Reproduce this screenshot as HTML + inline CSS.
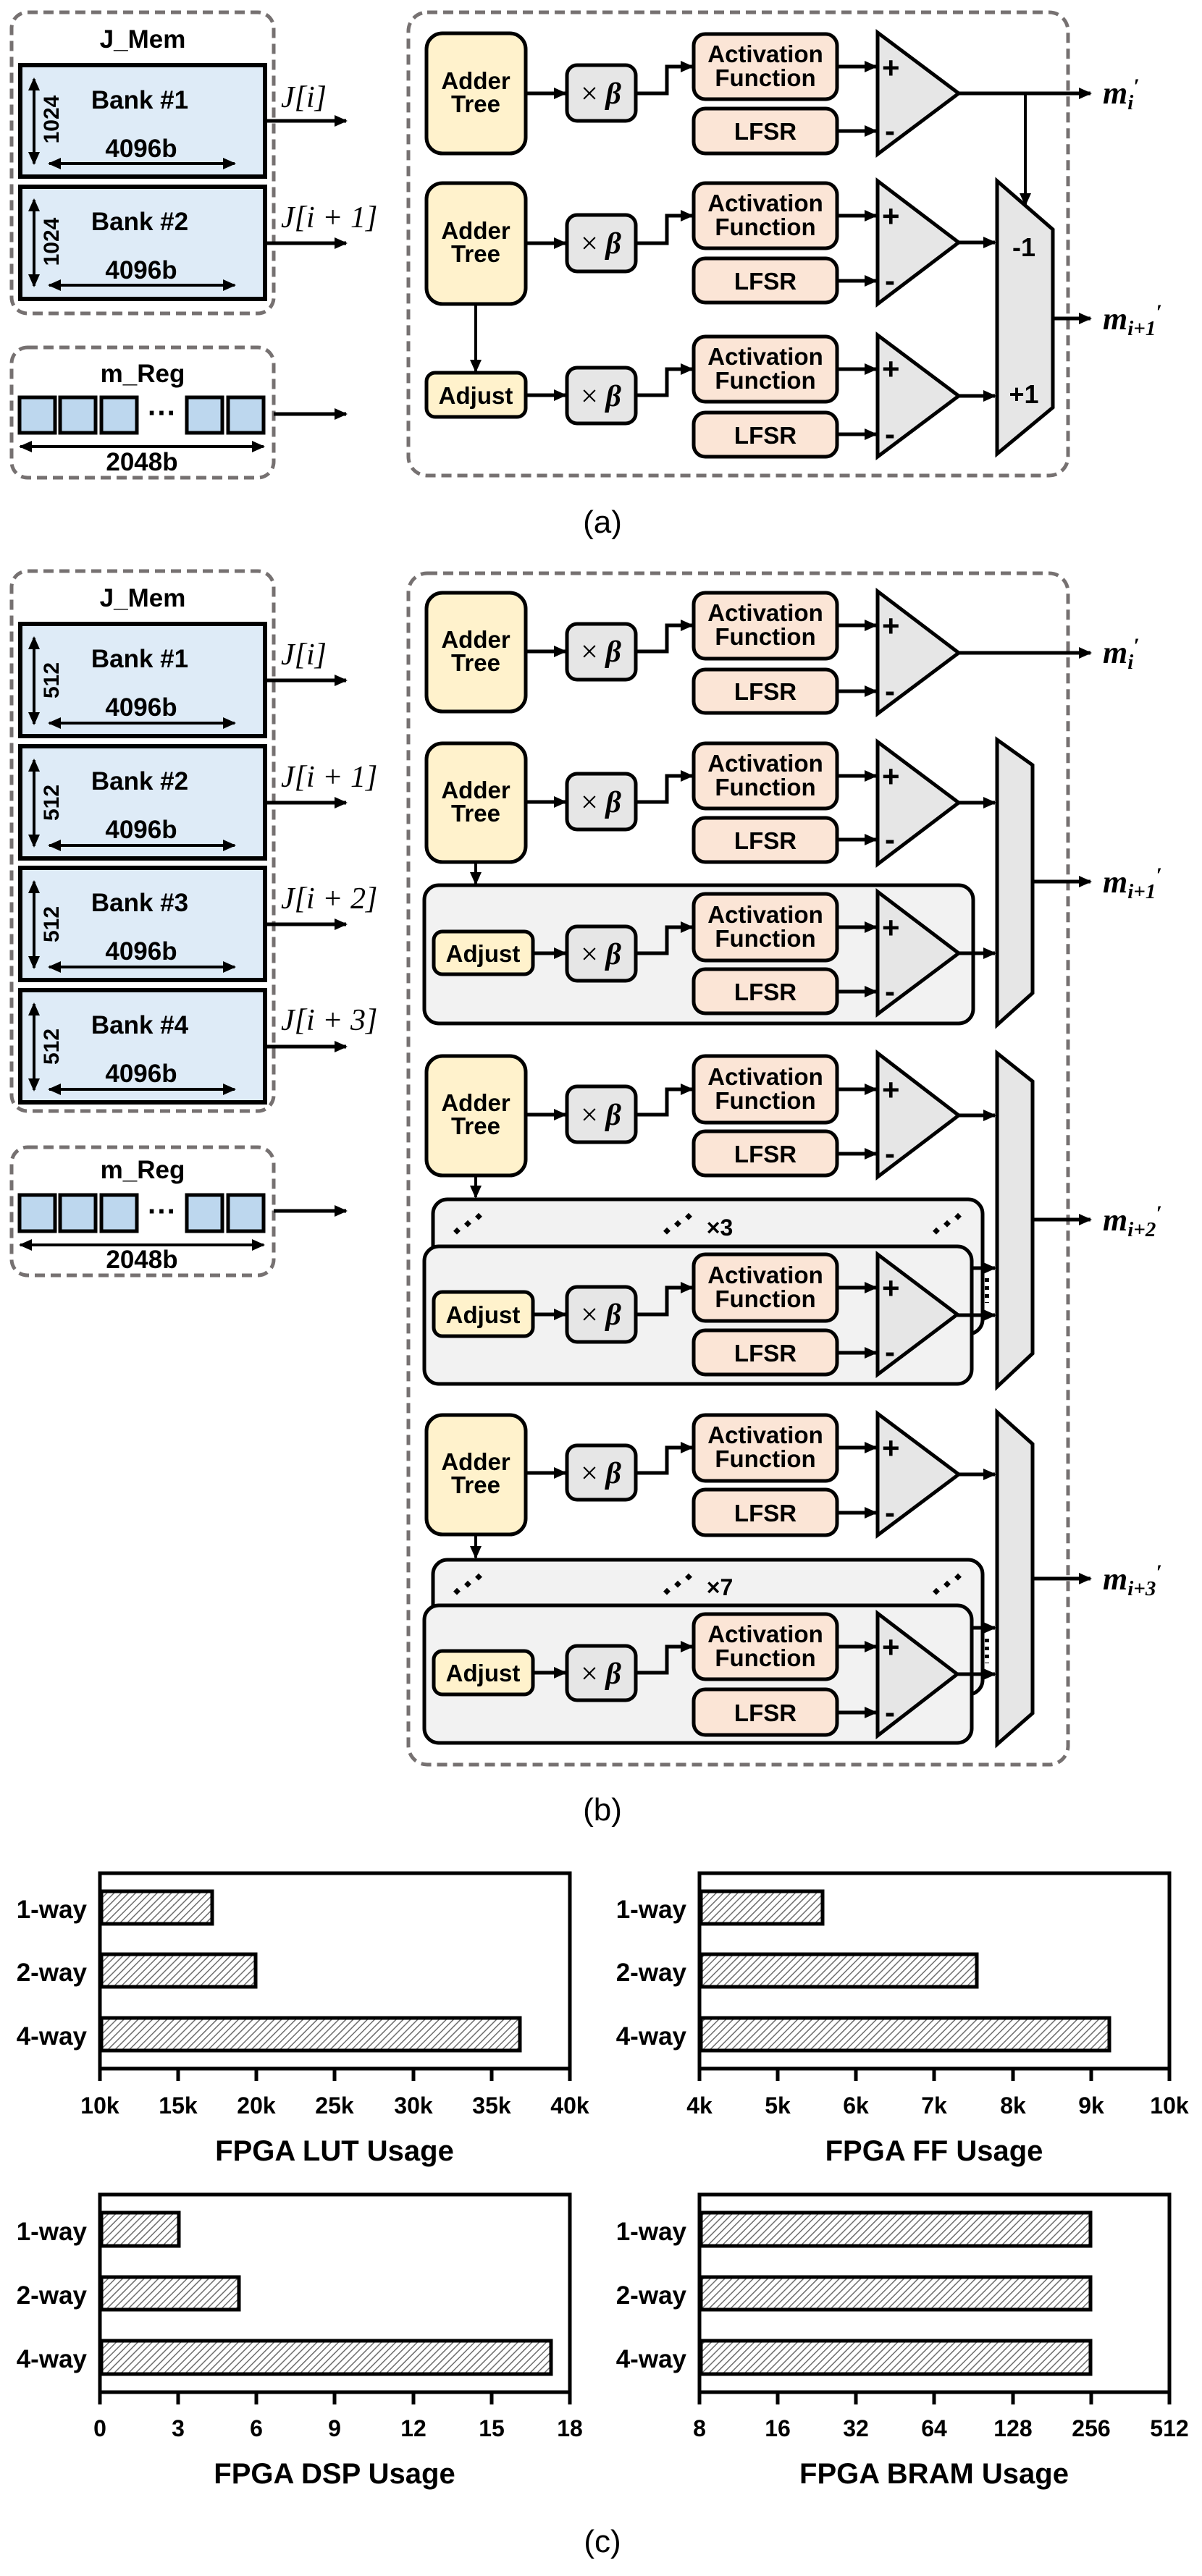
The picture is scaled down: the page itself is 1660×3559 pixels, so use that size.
<!DOCTYPE html>
<html><head><meta charset="utf-8"><style>
html,body{margin:0;padding:0;background:#fff}
svg{display:block}
text{font-family:"Liberation Sans",Arial,sans-serif}
.b{font-weight:bold;font-size:33px;text-anchor:middle}
.bk{font-weight:bold;font-size:35px;text-anchor:middle}
.ser{font-family:"Liberation Serif","DejaVu Serif",serif;font-style:italic}
.ad{fill:#fff2cc;stroke:#000;stroke-width:5}
.ac{fill:#fbe5d6;stroke:#000;stroke-width:5}
.xb{fill:#e6e6e6;stroke:#000;stroke-width:5}
.tri{fill:#e6e6e6;stroke:#000;stroke-width:5;stroke-linejoin:miter}
.ln{fill:none;stroke:#000;stroke-width:5}
.ln4{fill:none;stroke:#000;stroke-width:4}
.dash{fill:none;stroke:#767171;stroke-width:5;stroke-dasharray:14 8}
.gbox{fill:#f2f2f2;stroke:#000;stroke-width:5}
.bank{fill:#deebf7;stroke:#000;stroke-width:6}
.cell{fill:#bdd7ee;stroke:#000;stroke-width:5}
.pm{font-family:"Liberation Sans",sans-serif;font-size:42px;font-weight:bold}
.cat{font-size:35px;font-weight:bold;text-anchor:end}
.tk{font-size:32px;font-weight:bold;text-anchor:middle}
.tt{font-size:40px;font-weight:bold;text-anchor:middle}
.pl{font-size:44px;text-anchor:middle}
.bar{fill:url(#hatch);stroke:#000;stroke-width:5}
.J{font-size:42px}
</style></head><body>
<svg width="1660" height="3559" viewBox="0 0 1660 3559" xmlns="http://www.w3.org/2000/svg">
<defs>
<marker id="ar" markerUnits="userSpaceOnUse" markerWidth="18" markerHeight="16" refX="16" refY="8" orient="auto"><path d="M0,0 L18,8 L0,16 z" fill="#000"/></marker>
<marker id="ar2" markerUnits="userSpaceOnUse" markerWidth="18" markerHeight="16" refX="16" refY="8" orient="auto-start-reverse"><path d="M0,0 L18,8 L0,16 z" fill="#000"/></marker>
<pattern id="hatch" patternUnits="userSpaceOnUse" width="7" height="7" patternTransform="rotate(45)"><rect width="7" height="7" fill="#fff"/><line x1="0" y1="0" x2="0" y2="7" stroke="#6e6e6e" stroke-width="3"/></pattern>
</defs>

<!-- ================= (a) ================= -->
<rect x="16" y="17" width="362" height="416" rx="22" class="dash"/>
<text x="197" y="66" class="bk">J_Mem</text>
<rect x="28" y="90" width="338" height="154" class="bank"/>
<line x1="47" y1="109" x2="47" y2="226" class="ln4" marker-start="url(#ar2)" marker-end="url(#ar2)"/>
<text transform="translate(81,165) rotate(-90)" class="b" style="font-size:30px">1024</text>
<text x="193" y="150" class="bk">Bank #1</text>
<text x="195" y="217" class="bk">4096b</text>
<line x1="68" y1="226" x2="324" y2="226" class="ln4" marker-start="url(#ar2)" marker-end="url(#ar2)"/>
<rect x="28" y="258" width="338" height="155" class="bank"/>
<line x1="47" y1="276" x2="47" y2="395" class="ln4" marker-start="url(#ar2)" marker-end="url(#ar2)"/>
<text transform="translate(81,334) rotate(-90)" class="b" style="font-size:30px">1024</text>
<text x="193" y="318" class="bk">Bank #2</text>
<text x="195" y="385" class="bk">4096b</text>
<line x1="68" y1="394" x2="324" y2="394" class="ln4" marker-start="url(#ar2)" marker-end="url(#ar2)"/>
<line x1="366" y1="167" x2="478" y2="167" class="ln" marker-end="url(#ar)"/>
<line x1="366" y1="336" x2="478" y2="336" class="ln" marker-end="url(#ar)"/>
<text x="388" y="148" class="ser J">J[i]</text>
<text x="388" y="314" class="ser J">J[i + 1]</text>

<rect x="16" y="480" width="362" height="180" rx="22" class="dash"/>
<text x="197" y="528" class="bk">m_Reg</text>
<rect x="27" y="549" width="49" height="49" class="cell"/>
<rect x="83" y="549" width="49" height="49" class="cell"/>
<rect x="140" y="549" width="49" height="49" class="cell"/>
<text x="224" y="584" class="bk" style="font-size:40px">···</text>
<rect x="258" y="549" width="49" height="49" class="cell"/>
<rect x="315" y="549" width="49" height="49" class="cell"/>
<line x1="28" y1="617" x2="364" y2="617" class="ln4" marker-start="url(#ar2)" marker-end="url(#ar2)"/>
<text x="196" y="650" class="bk">2048b</text>
<line x1="378" y1="572" x2="478" y2="572" class="ln" marker-end="url(#ar)"/>

<rect x="564" y="17" width="911" height="640" rx="26" class="dash"/>
<!-- row a1 -->
<rect x="589" y="46" width="137" height="166" rx="22" class="ad"/>
<text x="657" y="123" class="b">Adder</text><text x="657" y="155" class="b">Tree</text>
<rect x="783" y="90" width="95" height="77" rx="14" class="xb"/>
<text x="830" y="143" class="ser" style="font-size:42px;text-anchor:middle;font-style:normal">× <tspan font-style="italic" font-weight="bold">β</tspan></text>
<rect x="958" y="47" width="198" height="90" rx="16" class="ac"/>
<text x="1057" y="86" class="b">Activation</text><text x="1057" y="119" class="b">Function</text>
<rect x="958" y="150" width="198" height="62" rx="16" class="ac"/>
<text x="1057" y="193" class="b">LFSR</text>
<polygon points="1212,45 1324,129 1212,213" class="tri"/>
<text x="1218" y="108" class="pm">+</text><text x="1222" y="195" class="pm">-</text>
<line x1="726" y1="129" x2="781" y2="129" class="ln" marker-end="url(#ar)"/>
<path d="M878,129 H921 V92 H956" class="ln" marker-end="url(#ar)"/>
<line x1="1156" y1="92" x2="1210" y2="92" class="ln" marker-end="url(#ar)"/>
<line x1="1156" y1="181" x2="1210" y2="181" class="ln" marker-end="url(#ar)"/>
<line x1="1324" y1="129" x2="1506" y2="129" class="ln" marker-end="url(#ar)"/>
<line x1="1416" y1="129" x2="1416" y2="283" class="ln4" marker-end="url(#ar)"/>
<text x="1523" y="143" class="ser" style="font-size:44px;font-weight:bold">m<tspan font-size="29" dy="8">i</tspan><tspan font-size="30" dy="-22">′</tspan></text>
<!-- row a2 -->
<rect x="589" y="253" width="137" height="167" rx="22" class="ad"/>
<text x="657" y="330" class="b">Adder</text><text x="657" y="362" class="b">Tree</text>
<rect x="783" y="297" width="95" height="78" rx="14" class="xb"/>
<text x="830" y="350" class="ser" style="font-size:42px;text-anchor:middle;font-style:normal">× <tspan font-style="italic" font-weight="bold">β</tspan></text>
<rect x="958" y="253" width="198" height="90" rx="16" class="ac"/>
<text x="1057" y="292" class="b">Activation</text><text x="1057" y="325" class="b">Function</text>
<rect x="958" y="357" width="198" height="61" rx="16" class="ac"/>
<text x="1057" y="400" class="b">LFSR</text>
<polygon points="1212,250 1324,335 1212,420" class="tri"/>
<text x="1218" y="313" class="pm">+</text><text x="1222" y="402" class="pm">-</text>
<line x1="726" y1="336" x2="781" y2="336" class="ln" marker-end="url(#ar)"/>
<path d="M878,336 H921 V298 H956" class="ln" marker-end="url(#ar)"/>
<line x1="1156" y1="298" x2="1210" y2="298" class="ln" marker-end="url(#ar)"/>
<line x1="1156" y1="388" x2="1210" y2="388" class="ln" marker-end="url(#ar)"/>
<line x1="1324" y1="335" x2="1374" y2="335" class="ln" marker-end="url(#ar)"/>
<line x1="657" y1="420" x2="657" y2="513" class="ln4" marker-end="url(#ar)"/>
<!-- row a3 -->
<rect x="589" y="515" width="137" height="61" rx="12" class="ad"/>
<text x="657" y="558" class="b">Adjust</text>
<rect x="783" y="508" width="95" height="77" rx="14" class="xb"/>
<text x="830" y="561" class="ser" style="font-size:42px;text-anchor:middle;font-style:normal">× <tspan font-style="italic" font-weight="bold">β</tspan></text>
<rect x="958" y="465" width="198" height="90" rx="16" class="ac"/>
<text x="1057" y="504" class="b">Activation</text><text x="1057" y="537" class="b">Function</text>
<rect x="958" y="570" width="198" height="61" rx="16" class="ac"/>
<text x="1057" y="613" class="b">LFSR</text>
<polygon points="1212,463 1324,547 1212,631" class="tri"/>
<text x="1218" y="524" class="pm">+</text><text x="1222" y="614" class="pm">-</text>
<line x1="726" y1="546" x2="781" y2="546" class="ln" marker-end="url(#ar)"/>
<path d="M878,546 H921 V510 H956" class="ln" marker-end="url(#ar)"/>
<line x1="1156" y1="510" x2="1210" y2="510" class="ln" marker-end="url(#ar)"/>
<line x1="1156" y1="600" x2="1210" y2="600" class="ln" marker-end="url(#ar)"/>
<line x1="1324" y1="547" x2="1374" y2="547" class="ln" marker-end="url(#ar)"/>
<polygon points="1377,250 1454,317 1454,563 1377,627" class="tri"/>
<text x="1414" y="354" class="b" style="font-size:36px">-1</text>
<text x="1414" y="557" class="b" style="font-size:36px">+1</text>
<line x1="1454" y1="440" x2="1506" y2="440" class="ln" marker-end="url(#ar)"/>
<text x="1523" y="455" class="ser" style="font-size:44px;font-weight:bold">m<tspan font-size="29" dy="8">i+1</tspan><tspan font-size="30" dy="-22">′</tspan></text>
<text x="832" y="736" class="pl">(a)</text>

<!-- ================= (b) ================= -->
<rect x="16" y="789" width="362" height="746" rx="22" class="dash"/>
<text x="197" y="838" class="bk">J_Mem</text>
<g>
<rect x="28" y="862" width="338" height="155" class="bank"/>
<line x1="47" y1="881" x2="47" y2="1000" class="ln4" marker-start="url(#ar2)" marker-end="url(#ar2)"/>
<text transform="translate(81,940) rotate(-90)" class="b" style="font-size:30px">512</text>
<text x="193" y="922" class="bk">Bank #1</text>
<text x="195" y="989" class="bk">4096b</text>
<line x1="68" y1="999" x2="324" y2="999" class="ln4" marker-start="url(#ar2)" marker-end="url(#ar2)"/>
<line x1="366" y1="940" x2="478" y2="940" class="ln" marker-end="url(#ar)"/>
<text x="388" y="918" class="ser J">J[i]</text>
</g>
<g>
<rect x="28" y="1031" width="338" height="155" class="bank"/>
<line x1="47" y1="1050" x2="47" y2="1169" class="ln4" marker-start="url(#ar2)" marker-end="url(#ar2)"/>
<text transform="translate(81,1109) rotate(-90)" class="b" style="font-size:30px">512</text>
<text x="193" y="1091" class="bk">Bank #2</text>
<text x="195" y="1158" class="bk">4096b</text>
<line x1="68" y1="1168" x2="324" y2="1168" class="ln4" marker-start="url(#ar2)" marker-end="url(#ar2)"/>
<line x1="366" y1="1109" x2="478" y2="1109" class="ln" marker-end="url(#ar)"/>
<text x="388" y="1087" class="ser J">J[i + 1]</text>
</g>
<g>
<rect x="28" y="1199" width="338" height="155" class="bank"/>
<line x1="47" y1="1218" x2="47" y2="1337" class="ln4" marker-start="url(#ar2)" marker-end="url(#ar2)"/>
<text transform="translate(81,1277) rotate(-90)" class="b" style="font-size:30px">512</text>
<text x="193" y="1259" class="bk">Bank #3</text>
<text x="195" y="1326" class="bk">4096b</text>
<line x1="68" y1="1336" x2="324" y2="1336" class="ln4" marker-start="url(#ar2)" marker-end="url(#ar2)"/>
<line x1="366" y1="1277" x2="478" y2="1277" class="ln" marker-end="url(#ar)"/>
<text x="388" y="1255" class="ser J">J[i + 2]</text>
</g>
<g>
<rect x="28" y="1368" width="338" height="155" class="bank"/>
<line x1="47" y1="1387" x2="47" y2="1506" class="ln4" marker-start="url(#ar2)" marker-end="url(#ar2)"/>
<text transform="translate(81,1446) rotate(-90)" class="b" style="font-size:30px">512</text>
<text x="193" y="1428" class="bk">Bank #4</text>
<text x="195" y="1495" class="bk">4096b</text>
<line x1="68" y1="1505" x2="324" y2="1505" class="ln4" marker-start="url(#ar2)" marker-end="url(#ar2)"/>
<line x1="366" y1="1446" x2="478" y2="1446" class="ln" marker-end="url(#ar)"/>
<text x="388" y="1423" class="ser J">J[i + 3]</text>
</g>

<rect x="16" y="1585" width="362" height="177" rx="22" class="dash"/>
<text x="197" y="1628" class="bk">m_Reg</text>
<rect x="27" y="1651" width="49" height="50" class="cell"/>
<rect x="83" y="1651" width="49" height="50" class="cell"/>
<rect x="140" y="1651" width="49" height="50" class="cell"/>
<text x="224" y="1687" class="bk" style="font-size:40px">···</text>
<rect x="258" y="1651" width="49" height="50" class="cell"/>
<rect x="315" y="1651" width="49" height="50" class="cell"/>
<line x1="28" y1="1720" x2="364" y2="1720" class="ln4" marker-start="url(#ar2)" marker-end="url(#ar2)"/>
<text x="196" y="1752" class="bk">2048b</text>
<line x1="378" y1="1673" x2="478" y2="1673" class="ln" marker-end="url(#ar)"/>

<rect x="564" y="792" width="911" height="1646" rx="26" class="dash"/>

<!-- b1 -->
<rect x="589" y="819" width="137" height="164" rx="22" class="ad"/>
<text x="657" y="895" class="b">Adder</text><text x="657" y="927" class="b">Tree</text>
<rect x="783" y="862" width="95" height="77" rx="14" class="xb"/>
<text x="830" y="914" class="ser" style="font-size:42px;text-anchor:middle;font-style:normal">× <tspan font-style="italic" font-weight="bold">β</tspan></text>
<rect x="958" y="819" width="198" height="91" rx="16" class="ac"/>
<text x="1057" y="858" class="b">Activation</text><text x="1057" y="891" class="b">Function</text>
<rect x="958" y="925" width="198" height="60" rx="16" class="ac"/>
<text x="1057" y="967" class="b">LFSR</text>
<polygon points="1212,817 1324,902 1212,986" class="tri"/>
<text x="1218" y="879" class="pm">+</text><text x="1222" y="969" class="pm">-</text>
<line x1="726" y1="900" x2="781" y2="900" class="ln" marker-end="url(#ar)"/>
<path d="M878,900 H921 V864 H956" class="ln" marker-end="url(#ar)"/>
<line x1="1156" y1="864" x2="1210" y2="864" class="ln" marker-end="url(#ar)"/>
<line x1="1156" y1="955" x2="1210" y2="955" class="ln" marker-end="url(#ar)"/>
<line x1="1324" y1="902" x2="1506" y2="902" class="ln" marker-end="url(#ar)"/>
<text x="1523" y="916" class="ser" style="font-size:44px;font-weight:bold">m<tspan font-size="29" dy="8">i</tspan><tspan font-size="30" dy="-22">′</tspan></text>

<!-- b2 -->
<rect x="589" y="1027" width="137" height="164" rx="22" class="ad"/>
<text x="657" y="1103" class="b">Adder</text><text x="657" y="1135" class="b">Tree</text>
<rect x="783" y="1069" width="95" height="77" rx="14" class="xb"/>
<text x="830" y="1122" class="ser" style="font-size:42px;text-anchor:middle;font-style:normal">× <tspan font-style="italic" font-weight="bold">β</tspan></text>
<rect x="958" y="1027" width="198" height="90" rx="16" class="ac"/>
<text x="1057" y="1066" class="b">Activation</text><text x="1057" y="1099" class="b">Function</text>
<rect x="958" y="1130" width="198" height="61" rx="16" class="ac"/>
<text x="1057" y="1173" class="b">LFSR</text>
<polygon points="1212,1025 1324,1109 1212,1194" class="tri"/>
<text x="1218" y="1087" class="pm">+</text><text x="1222" y="1174" class="pm">-</text>
<line x1="726" y1="1108" x2="781" y2="1108" class="ln" marker-end="url(#ar)"/>
<path d="M878,1108 H921 V1072 H956" class="ln" marker-end="url(#ar)"/>
<line x1="1156" y1="1072" x2="1210" y2="1072" class="ln" marker-end="url(#ar)"/>
<line x1="1156" y1="1160" x2="1210" y2="1160" class="ln" marker-end="url(#ar)"/>
<line x1="1324" y1="1109" x2="1374" y2="1109" class="ln" marker-end="url(#ar)"/>
<line x1="657" y1="1191" x2="657" y2="1221" class="ln4" marker-end="url(#ar)"/>
<rect x="586" y="1223" width="758" height="191" rx="20" class="gbox"/>
<rect x="599" y="1287" width="137" height="59" rx="12" class="ad"/>
<text x="667" y="1329" class="b">Adjust</text>
<rect x="783" y="1280" width="95" height="75" rx="14" class="xb"/>
<text x="830" y="1332" class="ser" style="font-size:42px;text-anchor:middle;font-style:normal">× <tspan font-style="italic" font-weight="bold">β</tspan></text>
<rect x="958" y="1235" width="198" height="92" rx="16" class="ac"/>
<text x="1057" y="1275" class="b">Activation</text><text x="1057" y="1308" class="b">Function</text>
<rect x="958" y="1339" width="198" height="61" rx="16" class="ac"/>
<text x="1057" y="1382" class="b">LFSR</text>
<polygon points="1212,1232 1324,1317 1212,1401" class="tri"/>
<text x="1218" y="1296" class="pm">+</text><text x="1222" y="1384" class="pm">-</text>
<line x1="736" y1="1317" x2="781" y2="1317" class="ln" marker-end="url(#ar)"/>
<path d="M878,1317 H921 V1281 H956" class="ln" marker-end="url(#ar)"/>
<line x1="1156" y1="1281" x2="1210" y2="1281" class="ln" marker-end="url(#ar)"/>
<line x1="1156" y1="1370" x2="1210" y2="1370" class="ln" marker-end="url(#ar)"/>
<line x1="1324" y1="1317" x2="1374" y2="1317" class="ln" marker-end="url(#ar)"/>
<polygon points="1377,1022 1426,1057 1426,1372 1377,1416" class="tri"/>
<line x1="1426" y1="1218" x2="1506" y2="1218" class="ln" marker-end="url(#ar)"/>
<text x="1523" y="1233" class="ser" style="font-size:44px;font-weight:bold">m<tspan font-size="29" dy="8">i+1</tspan><tspan font-size="30" dy="-22">′</tspan></text>

<!-- b3 -->
<rect x="589" y="1459" width="137" height="165" rx="22" class="ad"/>
<text x="657" y="1535" class="b">Adder</text><text x="657" y="1567" class="b">Tree</text>
<rect x="783" y="1501" width="95" height="77" rx="14" class="xb"/>
<text x="830" y="1554" class="ser" style="font-size:42px;text-anchor:middle;font-style:normal">× <tspan font-style="italic" font-weight="bold">β</tspan></text>
<rect x="958" y="1459" width="198" height="92" rx="16" class="ac"/>
<text x="1057" y="1499" class="b">Activation</text><text x="1057" y="1532" class="b">Function</text>
<rect x="958" y="1563" width="198" height="61" rx="16" class="ac"/>
<text x="1057" y="1606" class="b">LFSR</text>
<polygon points="1212,1455 1324,1541 1212,1626" class="tri"/>
<text x="1218" y="1520" class="pm">+</text><text x="1222" y="1608" class="pm">-</text>
<line x1="726" y1="1540" x2="781" y2="1540" class="ln" marker-end="url(#ar)"/>
<path d="M878,1540 H921 V1505 H956" class="ln" marker-end="url(#ar)"/>
<line x1="1156" y1="1505" x2="1210" y2="1505" class="ln" marker-end="url(#ar)"/>
<line x1="1156" y1="1594" x2="1210" y2="1594" class="ln" marker-end="url(#ar)"/>
<line x1="1324" y1="1541" x2="1374" y2="1541" class="ln" marker-end="url(#ar)"/>
<line x1="657" y1="1624" x2="657" y2="1654" class="ln4" marker-end="url(#ar)"/>
<rect x="598" y="1657" width="759" height="186" rx="20" class="gbox"/>
<g fill="#000">
<rect x="628" y="1697" width="7" height="7" transform="rotate(45 631 1700)"/><rect x="643" y="1687" width="7" height="7" transform="rotate(45 646 1690)"/><rect x="658" y="1677" width="7" height="7" transform="rotate(45 661 1680)"/>
<rect x="918" y="1697" width="7" height="7" transform="rotate(45 921 1700)"/><rect x="933" y="1687" width="7" height="7" transform="rotate(45 936 1690)"/><rect x="948" y="1677" width="7" height="7" transform="rotate(45 951 1680)"/>
<rect x="1290" y="1697" width="7" height="7" transform="rotate(45 1293 1700)"/><rect x="1305" y="1687" width="7" height="7" transform="rotate(45 1308 1690)"/><rect x="1320" y="1677" width="7" height="7" transform="rotate(45 1323 1680)"/>
</g>
<text x="994" y="1707" class="b" style="font-size:32px">×3</text>
<line x1="1342" y1="1752" x2="1374" y2="1752" class="ln" marker-end="url(#ar)"/>
<line x1="1363" y1="1766" x2="1363" y2="1800" stroke="#000" stroke-width="6" stroke-dasharray="5 6"/>
<rect x="586" y="1722" width="756" height="190" rx="20" class="gbox"/>
<rect x="599" y="1785" width="137" height="61" rx="12" class="ad"/>
<text x="667" y="1828" class="b">Adjust</text>
<rect x="783" y="1778" width="95" height="76" rx="14" class="xb"/>
<text x="830" y="1830" class="ser" style="font-size:42px;text-anchor:middle;font-style:normal">× <tspan font-style="italic" font-weight="bold">β</tspan></text>
<rect x="958" y="1733" width="198" height="92" rx="16" class="ac"/>
<text x="1057" y="1773" class="b">Activation</text><text x="1057" y="1806" class="b">Function</text>
<rect x="958" y="1838" width="198" height="61" rx="16" class="ac"/>
<text x="1057" y="1881" class="b">LFSR</text>
<polygon points="1212,1733 1322,1816 1212,1899" class="tri"/>
<text x="1218" y="1794" class="pm">+</text><text x="1222" y="1882" class="pm">-</text>
<line x1="736" y1="1816" x2="781" y2="1816" class="ln" marker-end="url(#ar)"/>
<path d="M878,1816 H921 V1779 H956" class="ln" marker-end="url(#ar)"/>
<line x1="1156" y1="1779" x2="1210" y2="1779" class="ln" marker-end="url(#ar)"/>
<line x1="1156" y1="1869" x2="1210" y2="1869" class="ln" marker-end="url(#ar)"/>
<line x1="1322" y1="1817" x2="1374" y2="1817" class="ln" marker-end="url(#ar)"/>
<polygon points="1377,1455 1426,1494 1426,1870 1377,1916" class="tri"/>
<line x1="1426" y1="1685" x2="1506" y2="1685" class="ln" marker-end="url(#ar)"/>
<text x="1523" y="1700" class="ser" style="font-size:44px;font-weight:bold">m<tspan font-size="29" dy="8">i+2</tspan><tspan font-size="30" dy="-22">′</tspan></text>

<!-- b4 -->
<rect x="589" y="1955" width="137" height="165" rx="22" class="ad"/>
<text x="657" y="2031" class="b">Adder</text><text x="657" y="2063" class="b">Tree</text>
<rect x="783" y="1997" width="95" height="75" rx="14" class="xb"/>
<text x="830" y="2049" class="ser" style="font-size:42px;text-anchor:middle;font-style:normal">× <tspan font-style="italic" font-weight="bold">β</tspan></text>
<rect x="958" y="1955" width="198" height="91" rx="16" class="ac"/>
<text x="1057" y="1994" class="b">Activation</text><text x="1057" y="2027" class="b">Function</text>
<rect x="958" y="2058" width="198" height="63" rx="16" class="ac"/>
<text x="1057" y="2102" class="b">LFSR</text>
<polygon points="1212,1953 1324,2037 1212,2121" class="tri"/>
<text x="1218" y="2015" class="pm">+</text><text x="1222" y="2104" class="pm">-</text>
<line x1="726" y1="2035" x2="781" y2="2035" class="ln" marker-end="url(#ar)"/>
<path d="M878,2035 H921 V2000 H956" class="ln" marker-end="url(#ar)"/>
<line x1="1156" y1="2000" x2="1210" y2="2000" class="ln" marker-end="url(#ar)"/>
<line x1="1156" y1="2090" x2="1210" y2="2090" class="ln" marker-end="url(#ar)"/>
<line x1="1324" y1="2037" x2="1374" y2="2037" class="ln" marker-end="url(#ar)"/>
<line x1="657" y1="2120" x2="657" y2="2152" class="ln4" marker-end="url(#ar)"/>
<rect x="598" y="2155" width="759" height="186" rx="20" class="gbox"/>
<g fill="#000">
<rect x="628" y="2195" width="7" height="7" transform="rotate(45 631 2198)"/><rect x="643" y="2185" width="7" height="7" transform="rotate(45 646 2188)"/><rect x="658" y="2175" width="7" height="7" transform="rotate(45 661 2178)"/>
<rect x="918" y="2195" width="7" height="7" transform="rotate(45 921 2198)"/><rect x="933" y="2185" width="7" height="7" transform="rotate(45 936 2188)"/><rect x="948" y="2175" width="7" height="7" transform="rotate(45 951 2178)"/>
<rect x="1290" y="2195" width="7" height="7" transform="rotate(45 1293 2198)"/><rect x="1305" y="2185" width="7" height="7" transform="rotate(45 1308 2188)"/><rect x="1320" y="2175" width="7" height="7" transform="rotate(45 1323 2178)"/>
</g>
<text x="994" y="2204" class="b" style="font-size:32px">×7</text>
<line x1="1342" y1="2249" x2="1374" y2="2249" class="ln" marker-end="url(#ar)"/>
<line x1="1363" y1="2264" x2="1363" y2="2298" stroke="#000" stroke-width="6" stroke-dasharray="5 6"/>
<rect x="586" y="2218" width="756" height="190" rx="20" class="gbox"/>
<rect x="599" y="2281" width="137" height="60" rx="12" class="ad"/>
<text x="667" y="2323" class="b">Adjust</text>
<rect x="783" y="2274" width="95" height="75" rx="14" class="xb"/>
<text x="830" y="2326" class="ser" style="font-size:42px;text-anchor:middle;font-style:normal">× <tspan font-style="italic" font-weight="bold">β</tspan></text>
<rect x="958" y="2230" width="198" height="90" rx="16" class="ac"/>
<text x="1057" y="2269" class="b">Activation</text><text x="1057" y="2302" class="b">Function</text>
<rect x="958" y="2334" width="198" height="63" rx="16" class="ac"/>
<text x="1057" y="2378" class="b">LFSR</text>
<polygon points="1212,2229 1322,2313 1212,2398" class="tri"/>
<text x="1218" y="2290" class="pm">+</text><text x="1222" y="2380" class="pm">-</text>
<line x1="736" y1="2311" x2="781" y2="2311" class="ln" marker-end="url(#ar)"/>
<path d="M878,2311 H921 V2275 H956" class="ln" marker-end="url(#ar)"/>
<line x1="1156" y1="2275" x2="1210" y2="2275" class="ln" marker-end="url(#ar)"/>
<line x1="1156" y1="2366" x2="1210" y2="2366" class="ln" marker-end="url(#ar)"/>
<line x1="1322" y1="2313" x2="1374" y2="2313" class="ln" marker-end="url(#ar)"/>
<polygon points="1377,1951 1426,1995 1426,2367 1377,2410" class="tri"/>
<line x1="1426" y1="2181" x2="1506" y2="2181" class="ln" marker-end="url(#ar)"/>
<text x="1523" y="2196" class="ser" style="font-size:44px;font-weight:bold">m<tspan font-size="29" dy="8">i+3</tspan><tspan font-size="30" dy="-22">′</tspan></text>
<text x="832" y="2515" class="pl">(b)</text>

<!-- ================= (c) ================= -->
<rect x="138" y="2588" width="649" height="270" fill="none" stroke="#000" stroke-width="5"/>
<rect x="140" y="2613" width="153" height="45" class="bar"/>
<rect x="140" y="2700" width="213" height="45" class="bar"/>
<rect x="140" y="2788" width="578" height="45" class="bar"/>
<text x="120" y="2650" class="cat">1-way</text><text x="120" y="2737" class="cat">2-way</text><text x="120" y="2825" class="cat">4-way</text>
<g stroke="#000" stroke-width="5"><line x1="138" y1="2858" x2="138" y2="2875"/><line x1="246" y1="2858" x2="246" y2="2875"/><line x1="354" y1="2858" x2="354" y2="2875"/><line x1="462" y1="2858" x2="462" y2="2875"/><line x1="571" y1="2858" x2="571" y2="2875"/><line x1="679" y1="2858" x2="679" y2="2875"/><line x1="787" y1="2858" x2="787" y2="2875"/></g>
<text x="138" y="2920" class="tk">10k</text><text x="246" y="2920" class="tk">15k</text><text x="354" y="2920" class="tk">20k</text><text x="462" y="2920" class="tk">25k</text><text x="571" y="2920" class="tk">30k</text><text x="679" y="2920" class="tk">35k</text><text x="787" y="2920" class="tk">40k</text>
<text x="462" y="2985" class="tt">FPGA LUT Usage</text>

<rect x="966" y="2588" width="649" height="270" fill="none" stroke="#000" stroke-width="5"/>
<rect x="968" y="2613" width="168" height="45" class="bar"/>
<rect x="968" y="2700" width="381" height="45" class="bar"/>
<rect x="968" y="2788" width="564" height="45" class="bar"/>
<text x="948" y="2650" class="cat">1-way</text><text x="948" y="2737" class="cat">2-way</text><text x="948" y="2825" class="cat">4-way</text>
<g stroke="#000" stroke-width="5"><line x1="966" y1="2858" x2="966" y2="2875"/><line x1="1074" y1="2858" x2="1074" y2="2875"/><line x1="1182" y1="2858" x2="1182" y2="2875"/><line x1="1290" y1="2858" x2="1290" y2="2875"/><line x1="1399" y1="2858" x2="1399" y2="2875"/><line x1="1507" y1="2858" x2="1507" y2="2875"/><line x1="1615" y1="2858" x2="1615" y2="2875"/></g>
<text x="966" y="2920" class="tk">4k</text><text x="1074" y="2920" class="tk">5k</text><text x="1182" y="2920" class="tk">6k</text><text x="1290" y="2920" class="tk">7k</text><text x="1399" y="2920" class="tk">8k</text><text x="1507" y="2920" class="tk">9k</text><text x="1615" y="2920" class="tk">10k</text>
<text x="1290" y="2985" class="tt">FPGA FF Usage</text>

<rect x="138" y="3032" width="649" height="273" fill="none" stroke="#000" stroke-width="5"/>
<rect x="140" y="3057" width="107" height="46" class="bar"/>
<rect x="140" y="3146" width="190" height="45" class="bar"/>
<rect x="140" y="3234" width="621" height="46" class="bar"/>
<text x="120" y="3095" class="cat">1-way</text><text x="120" y="3183" class="cat">2-way</text><text x="120" y="3271" class="cat">4-way</text>
<g stroke="#000" stroke-width="5"><line x1="138" y1="3305" x2="138" y2="3322"/><line x1="246" y1="3305" x2="246" y2="3322"/><line x1="354" y1="3305" x2="354" y2="3322"/><line x1="462" y1="3305" x2="462" y2="3322"/><line x1="571" y1="3305" x2="571" y2="3322"/><line x1="679" y1="3305" x2="679" y2="3322"/><line x1="787" y1="3305" x2="787" y2="3322"/></g>
<text x="138" y="3366" class="tk">0</text><text x="246" y="3366" class="tk">3</text><text x="354" y="3366" class="tk">6</text><text x="462" y="3366" class="tk">9</text><text x="571" y="3366" class="tk">12</text><text x="679" y="3366" class="tk">15</text><text x="787" y="3366" class="tk">18</text>
<text x="462" y="3431" class="tt">FPGA DSP Usage</text>

<rect x="966" y="3032" width="649" height="273" fill="none" stroke="#000" stroke-width="5"/>
<rect x="968" y="3057" width="538" height="46" class="bar"/>
<rect x="968" y="3146" width="538" height="45" class="bar"/>
<rect x="968" y="3234" width="538" height="46" class="bar"/>
<text x="948" y="3095" class="cat">1-way</text><text x="948" y="3183" class="cat">2-way</text><text x="948" y="3271" class="cat">4-way</text>
<g stroke="#000" stroke-width="5"><line x1="966" y1="3305" x2="966" y2="3322"/><line x1="1074" y1="3305" x2="1074" y2="3322"/><line x1="1182" y1="3305" x2="1182" y2="3322"/><line x1="1290" y1="3305" x2="1290" y2="3322"/><line x1="1399" y1="3305" x2="1399" y2="3322"/><line x1="1507" y1="3305" x2="1507" y2="3322"/><line x1="1615" y1="3305" x2="1615" y2="3322"/></g>
<text x="966" y="3366" class="tk">8</text><text x="1074" y="3366" class="tk">16</text><text x="1182" y="3366" class="tk">32</text><text x="1290" y="3366" class="tk">64</text><text x="1399" y="3366" class="tk">128</text><text x="1507" y="3366" class="tk">256</text><text x="1615" y="3366" class="tk">512</text>
<text x="1290" y="3431" class="tt">FPGA BRAM Usage</text>
<text x="832" y="3526" class="pl">(c)</text>
</svg>
</body></html>
